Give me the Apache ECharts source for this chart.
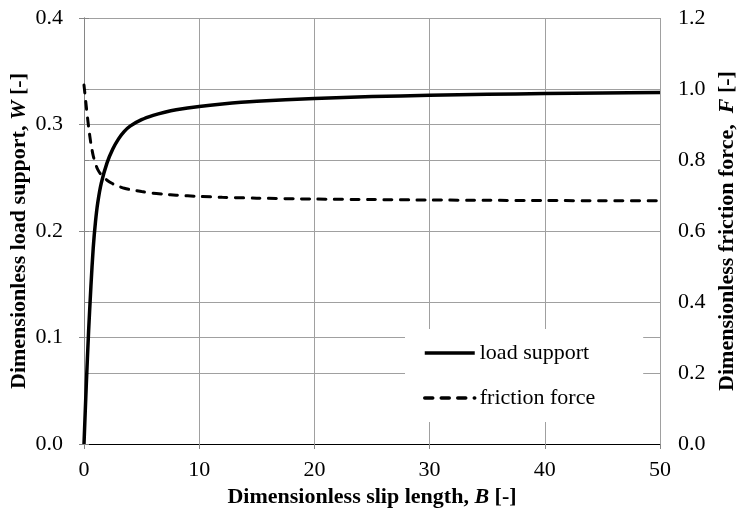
<!DOCTYPE html>
<html>
<head>
<meta charset="utf-8">
<script src="https://cdn.jsdelivr.net/npm/echarts@6/dist/echarts.min.js"></script>
<style>
  html, body { margin: 0; padding: 0; background: #fff; }
  #chart { width: 745px; height: 512px; }
</style>
</head>
<body>
<div id="chart"></div>
<script>
// Dimensionless slip length B
const slipLength = [0, 0.2, 0.4, 0.6, 0.8, 1.0, 1.2, 1.5, 2, 2.5, 3, 3.5, 4, 5, 6, 7, 8, 10, 12, 15, 20, 25, 30, 35, 40, 45, 50];
// Dimensionless load support W (left axis)
const loadSupport = [0, 0.056, 0.106, 0.148, 0.184, 0.209, 0.227, 0.245, 0.264, 0.277, 0.2865, 0.2935, 0.2985, 0.3045, 0.3085, 0.3115, 0.3138, 0.317, 0.3193, 0.3218, 0.3245, 0.3262, 0.3274, 0.3283, 0.329, 0.3295, 0.330];
// Dimensionless friction force F (right axis)
const frictionForce = [1.011, 0.95, 0.893, 0.846, 0.812, 0.789, 0.773, 0.758, 0.743, 0.733, 0.726, 0.7205, 0.7165, 0.711, 0.7065, 0.7035, 0.701, 0.6975, 0.695, 0.6925, 0.6900, 0.6885, 0.6873, 0.6865, 0.6858, 0.6853, 0.685];

const FONT = '"Liberation Serif", "Times New Roman", serif';
const FS = 22;
const AXIS_GREY = '#868686';
const GRID_GREY = '#a0a0a0';

const titleRich = {
  b: { fontFamily: FONT, fontWeight: 'bold', fontSize: FS, color: '#000' },
  i: { fontFamily: FONT, fontWeight: 'bold', fontStyle: 'italic', fontSize: FS, color: '#000' }
};

const labelStyle = { fontFamily: FONT, fontSize: FS, color: '#000' };

const chart = echarts.init(document.getElementById('chart'), null, { renderer: 'canvas' });

chart.setOption({
  animation: false,
  backgroundColor: '#fff',
  grid: { left: 84, right: 85, top: 18, bottom: 68, containLabel: false, outerBoundsMode: 'none' },
  legend: {
    orient: 'vertical',
    left: 405,
    top: 329,
    backgroundColor: '#fff',
    padding: [12, 48, 12, 18],
    itemWidth: 50,
    itemHeight: 14,
    itemGap: 21,
    itemStyle: { color: 'rgba(0,0,0,0)', borderColor: 'rgba(0,0,0,0)', borderWidth: 0, opacity: 0 },
    textStyle: { fontFamily: FONT, fontSize: FS, color: '#000', lineHeight: 24 },
    data: [
      { name: 'load support', lineStyle: { width: 3.5 } },
      { name: 'friction force', lineStyle: { width: 3.5 } }
    ]
  },
  xAxis: [{
    type: 'value',
    min: 0, max: 50, interval: 10,
    name: '{b|Dimensionless slip length, }{i|B}{b| [-]}',
    nameLocation: 'middle',
    nameGap: 42,
    nameMoveOverlap: false,
    nameTextStyle: { rich: titleRich },
    axisLine: { lineStyle: { color: AXIS_GREY, width: 1 } },
    axisTick: { show: true, inside: false, length: 5, lineStyle: { color: AXIS_GREY } },
    axisLabel: Object.assign({ margin: 15 }, labelStyle),
    splitLine: { show: true, lineStyle: { color: GRID_GREY, width: 1 } }
  }, {
    type: 'value',
    position: 'top',
    min: 0, max: 50,
    axisLine: { show: true, lineStyle: { color: '#000', width: 1 } },
    axisTick: { show: false },
    axisLabel: { show: false },
    splitLine: { show: false }
  }],
  yAxis: [{
    type: 'value',
    position: 'left',
    min: 0, max: 0.4, interval: 0.1,
    name: '{b|Dimensionless load support, }{i|W}{b| [-]}',
    nameLocation: 'middle',
    nameRotate: 90,
    nameGap: 54,
    nameMoveOverlap: false,
    nameTextStyle: { rich: titleRich },
    axisLine: { show: true, lineStyle: { color: AXIS_GREY, width: 1 } },
    axisTick: { show: true, inside: false, length: 5, lineStyle: { color: AXIS_GREY } },
    axisLabel: Object.assign({ margin: 21, formatter: v => v.toFixed(1) }, labelStyle),
    splitLine: { show: true, lineStyle: { color: GRID_GREY, width: 1 } }
  }, {
    type: 'value',
    position: 'right',
    min: 0, max: 1.2, interval: 0.2,
    name: '{b|Dimensionless friction force,  }{i|F}{b| [-]}',
    nameLocation: 'middle',
    nameRotate: 90,
    nameGap: 56,
    nameMoveOverlap: false,
    nameTextStyle: { rich: titleRich },
    axisLine: { show: true, lineStyle: { color: AXIS_GREY, width: 1 } },
    axisTick: { show: true, inside: false, length: 5, lineStyle: { color: AXIS_GREY } },
    axisLabel: Object.assign({ margin: 18, formatter: v => v.toFixed(1) }, labelStyle),
    splitLine: { show: true, lineStyle: { color: GRID_GREY, width: 1 } }
  }],
  series: [{
    name: 'load support',
    type: 'line',
    xAxisIndex: 0,
    yAxisIndex: 0,
    data: slipLength.map((b, k) => [b, loadSupport[k]]),
    showSymbol: false,
    symbol: 'none',
    smooth: 0.25,
    lineStyle: { color: '#000', width: 3.5 },
    itemStyle: { color: '#000' },
    z: 3
  }, {
    name: 'friction force',
    type: 'line',
    xAxisIndex: 0,
    yAxisIndex: 1,
    data: slipLength.map((b, k) => [b, frictionForce[k]]),
    showSymbol: false,
    symbol: 'none',
    smooth: 0.25,
    lineStyle: { color: '#000', width: 3, type: [8, 8.5], cap: 'round' },
    itemStyle: { color: '#000' },
    z: 3
  }]
});
</script>
</body>
</html>
